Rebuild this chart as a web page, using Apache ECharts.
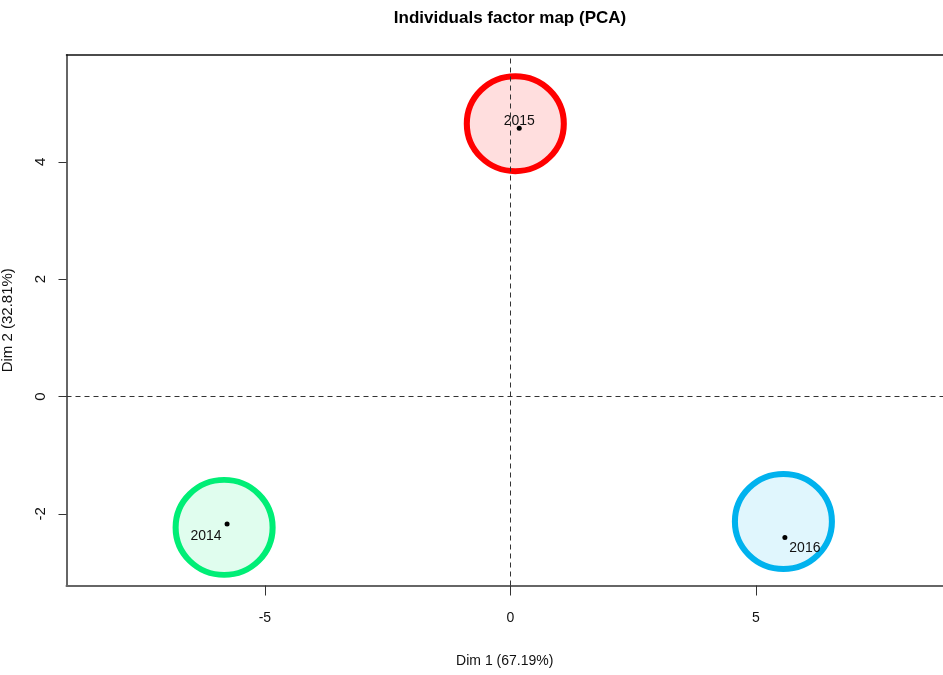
<!DOCTYPE html>
<html>
<head>
<meta charset="utf-8">
<title>Individuals factor map (PCA)</title>
<script src="https://cdn.jsdelivr.net/npm/echarts@6/dist/echarts.min.js"></script>
<style>
  html, body { margin: 0; padding: 0; background: #fff; }
  #chart { width: 943px; height: 675px; }
</style>
</head>
<body>
<div id="chart"></div>
<script>
// Individuals (years) projected on the first two principal components
const years = ['2014', '2015', '2016'];
const dim1 = [-5.77, 0.18, 5.59];
const dim2 = [-2.17, 4.57, -2.40];

// Centres of the highlight circles around each individual
const circleDim1 = [-5.83, 0.10, 5.56];
const circleDim2 = [-2.23, 4.65, -2.13];

// Axis tick values
const xTicks = [-5, 0, 5];
const yTicks = [-2, 0, 2, 4];

// Axis titles
const xTitle = 'Dim 1 (67.19%)';
const yTitle = 'Dim 2 (32.81%)';
const chartTitle = 'Individuals factor map (PCA)';

// Styling per individual
const strokeColors = ['#00EE76', '#FF0000', '#00B2EE'];
const fillColors = ['rgba(0,238,118,0.12)', 'rgba(255,0,0,0.13)', 'rgba(0,178,238,0.12)'];
const labelOffsets = [[-21, 12], [0, -7], [20, 11]];

const regular = "'Liberation Sans', Arial, sans-serif";

const chart = echarts.init(document.getElementById('chart'), null, { renderer: 'canvas' });

const circleData = years.map((y, i) => ({
  value: [circleDim1[i], circleDim2[i]],
  itemStyle: { color: fillColors[i], borderColor: strokeColors[i], borderWidth: 6, opacity: 1 }
}));

const pointData = years.map((y, i) => ({
  value: [dim1[i], dim2[i]],
  name: y,
  label: { offset: labelOffsets[i] }
}));

const option = {
  animation: false,
  backgroundColor: '#ffffff',
  title: {
    text: chartTitle,
    left: 505,
    top: 5,
    textAlign: 'center',
    textStyle: { fontFamily: regular, fontWeight: 'bold', fontSize: 17, color: '#000' }
  },
  grid: {
    left: 66.5, top: 55, right: 0, bottom: 89.5,
    containLabel: false,
    outerBoundsMode: 'none'
  },
  xAxis: [
    {
      type: 'value',
      min: -9.04,
      max: 8.81,
      splitLine: { show: false },
      axisLine: { show: true, onZero: false, lineStyle: { color: '#666', width: 2 } },
      axisTick: { show: true, length: 10, customValues: xTicks, lineStyle: { color: '#333', width: 1 } },
      axisLabel: {
        customValues: xTicks,
        margin: 26,
        fontFamily: regular,
        fontSize: 14,
        color: '#111'
      },
      name: xTitle,
      nameLocation: 'middle',
      nameGap: 69,
      nameTextStyle: { fontFamily: regular, fontSize: 14, color: '#111' }
    },
    {
      type: 'value',
      position: 'top',
      min: -9.04,
      max: 8.81,
      splitLine: { show: false },
      axisLine: { show: true, onZero: false, lineStyle: { color: '#111', width: 1.5 } },
      axisTick: { show: false },
      axisLabel: { show: false }
    }
  ],
  yAxis: {
    type: 'value',
    min: -3.22,
    max: 5.82,
    splitLine: { show: false },
    axisLine: { show: true, onZero: false, lineStyle: { color: '#666', width: 2 } },
    axisTick: { show: true, length: 8, customValues: yTicks, lineStyle: { color: '#333', width: 1 } },
    axisLabel: {
      customValues: yTicks,
      rotate: 90,
      margin: 18,
      fontFamily: regular,
      fontSize: 15,
      color: '#111'
    },
    name: yTitle,
    nameLocation: 'middle',
    nameRotate: 90,
    nameGap: 51,
    nameTextStyle: { fontFamily: regular, fontSize: 15, color: '#111' }
  },
  series: [
    {
      // dashed reference lines through the origin
      type: 'scatter',
      data: [],
      z: 1,
      markLine: {
        silent: true,
        symbol: 'none',
        label: { show: false },
        lineStyle: { color: '#333', type: [5, 4], width: 1 },
        data: [{ xAxis: 0 }, { yAxis: 0 }]
      }
    },
    {
      type: 'scatter',
      z: 2,
      symbol: 'circle',
      symbolSize: [97, 95],
      data: circleData,
      silent: true
    },
    {
      type: 'scatter',
      z: 3,
      symbol: 'circle',
      symbolSize: 5,
      itemStyle: { color: '#000', opacity: 1 },
      data: pointData,
      label: {
        show: true,
        position: 'inside',
        formatter: p => p.name,
        fontFamily: regular,
        fontSize: 14,
        color: '#111'
      }
    }
  ]
};

chart.setOption(option);
</script>
</body>
</html>
